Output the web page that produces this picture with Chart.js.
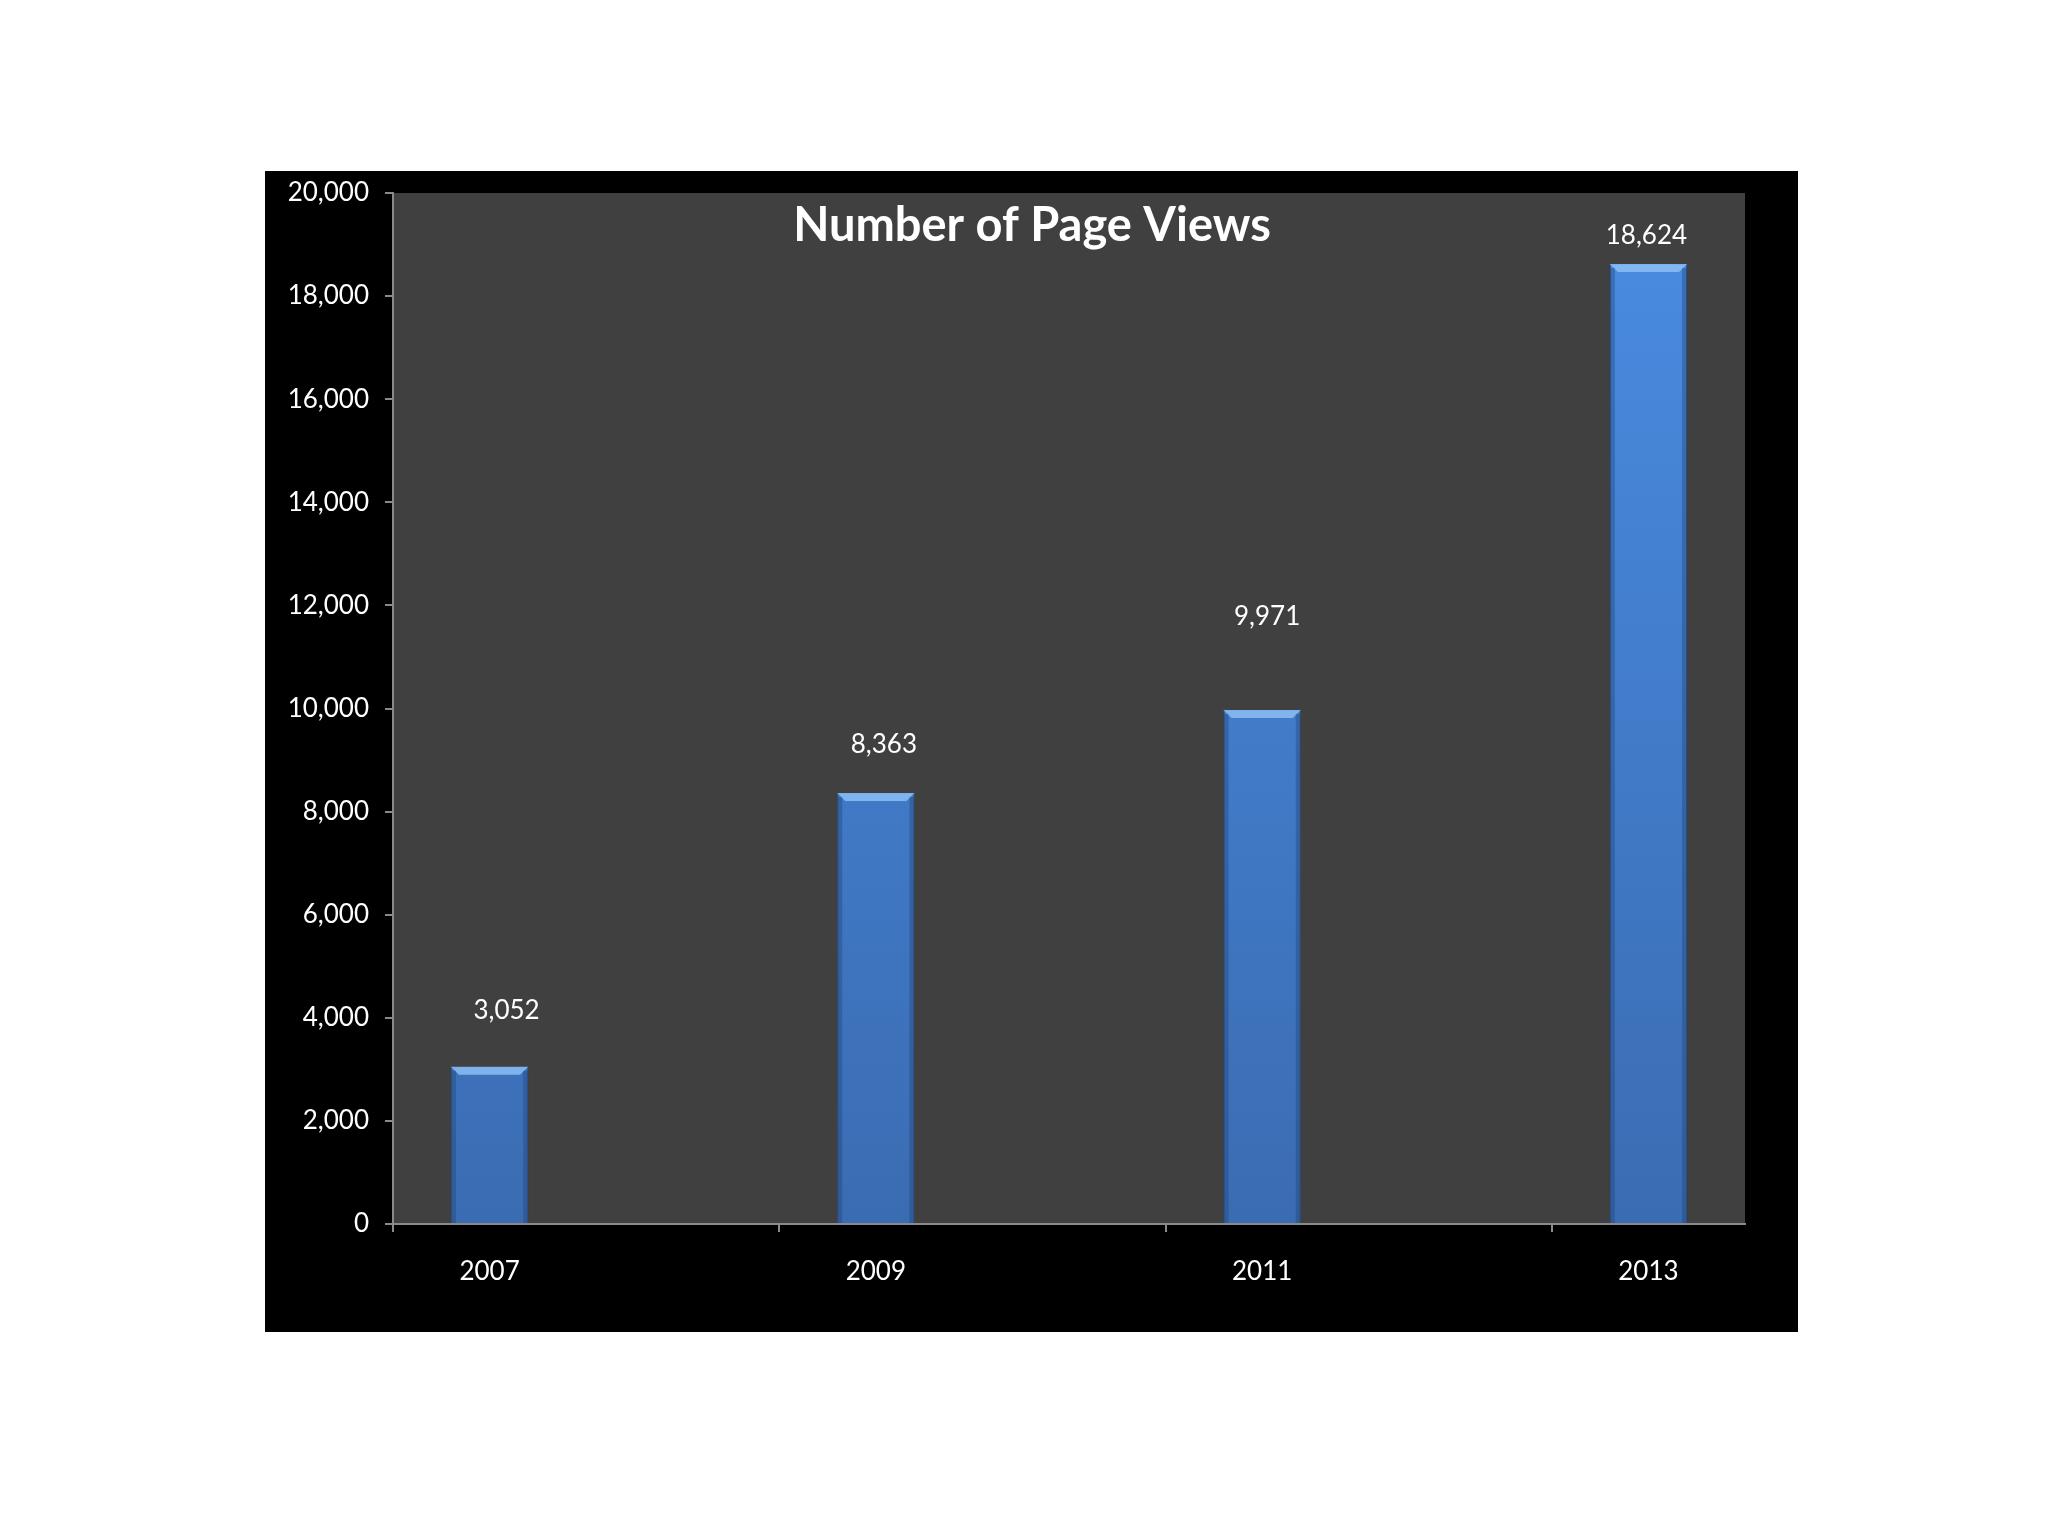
<!DOCTYPE html>
<html>
<head>
<meta charset="utf-8">
<title>Number of Page Views</title>
<script src="https://cdn.jsdelivr.net/npm/chart.js@4/dist/chart.umd.min.js"></script>
<style>
    html, body { margin: 0; padding: 0; background: #ffffff; }
    #cadre {
        position: absolute;
        left: 265px;
        top: 171px;
        width: 1533px;
        height: 1161px;
        background: #000000;
    }
</style>
</head>
<body>
<div id="cadre"><canvas id="graphique-vues"></canvas></div>
<script>
// Années de l'axe (un an par catégorie, seules les années impaires ont une barre)
const annees = ["2007", "2008", "2009", "2010", "2011", "2012", "2013"];
const vuesPages = [3052, null, 8363, null, 9971, null, 18624];
const titre = "Number of Page Views";

const police = "Lato, 'Open Sans', sans-serif";
const gris = "#8a8a8a";

// Décalage des étiquettes de valeur par rapport au haut de chaque barre (px)
const decalageEtiquettes = [[17, -56], null, [8, -48], null, [5, -93], null, [-2, -28]];

// Fond gris de la zone de tracé
const fondZone = {
    id: "fondZone",
    beforeDraw(chart) {
        const { ctx, chartArea } = chart;
        ctx.save();
        ctx.fillStyle = "#404040";
        ctx.fillRect(chartArea.left, chartArea.top, chartArea.right - chartArea.left, chartArea.bottom - chartArea.top);
        ctx.restore();
    }
};

// Biseau clair en haut des barres + étiquettes + titre
const finitions = {
    id: "finitions",
    afterDatasetsDraw(chart) {
        const ctx = chart.ctx;
        const meta = chart.getDatasetMeta(0);
        ctx.save();
        meta.data.forEach((barre, i) => {
            if (vuesPages[i] === null) return;
            const props = barre.getProps(["x", "y", "base", "width"], true);
            const g = props.x - props.width / 2;
            const d = props.x + props.width / 2;
            const h = props.y;
            // bande claire du haut
            ctx.fillStyle = "rgba(140, 190, 245, 0.85)";
            ctx.beginPath();
            ctx.moveTo(g, h);
            ctx.lineTo(d, h);
            ctx.lineTo(d - 8, h + 8);
            ctx.lineTo(g + 8, h + 8);
            ctx.closePath();
            ctx.fill();
            // côtés plus sombres
            ctx.fillStyle = "rgba(30, 60, 110, 0.35)";
            ctx.fillRect(g, h + 4, 5, props.base - h - 4);
            ctx.fillRect(d - 5, h + 4, 5, props.base - h - 4);

            // étiquette de valeur
            const dec = decalageEtiquettes[i] || [0, -40];
            ctx.fillStyle = "#ffffff";
            ctx.font = "26px " + police;
            ctx.textAlign = "center";
            ctx.textBaseline = "middle";
            ctx.fillText(vuesPages[i].toLocaleString("en-US"), props.x + dec[0], h + dec[1]);
        });

        // titre dans la zone de tracé
        ctx.fillStyle = "#ffffff";
        ctx.font = "bold 47px " + police;
        ctx.textAlign = "center";
        ctx.textBaseline = "middle";
        ctx.fillText(titre, 767, 55);
        ctx.restore();
    }
};

const data = {
    labels: annees,
    datasets: [{
        label: titre,
        data: vuesPages,
        backgroundColor: function (context) {
            const area = context.chart.chartArea;
            if (!area) return "#4284d8";
            const degrade = context.chart.ctx.createLinearGradient(0, area.top, 0, area.bottom);
            degrade.addColorStop(0, "#4a8ce2");
            degrade.addColorStop(1, "#3a6cb2");
            return degrade;
        },
        borderColor: "#2e5a99",
        borderWidth: 1,
        categoryPercentage: 1,
        barPercentage: 0.4,
    }],
};

const config = {
    type: "bar",
    data: data,
    options: {
        responsive: true,
        maintainAspectRatio: false,
        animation: false,
        layout: {
            padding: { left: 0, top: 22, right: 53, bottom: 0 },
        },
        plugins: {
            legend: { display: false },
            tooltip: { enabled: false },
            title: { display: false },
        },
        scales: {
            x: {
                offset: true,
                afterFit(scale) { scale.height = 108; },
                grid: {
                    offset: true,
                    drawOnChartArea: false,
                    drawTicks: true,
                    tickLength: 8,
                    lineWidth: 2,
                    color: (ctx) => (ctx.index % 2 === 0) ? gris : "rgba(0,0,0,0)",
                },
                border: { color: gris, width: 2 },
                ticks: {
                    autoSkip: false,
                    maxRotation: 0,
                    color: "#ffffff",
                    padding: 24,
                    font: { family: police, size: 26 },
                    callback: (valeur, i) => (i % 2 === 0) ? annees[i] : "",
                },
            },
            y: {
                min: 0,
                max: 20000,
                afterFit(scale) {
                    scale.width = 128;
                    scale.paddingTop = 0;
                    scale.paddingBottom = 0;
                },
                grid: {
                    drawOnChartArea: false,
                    drawTicks: true,
                    tickLength: 8,
                    lineWidth: 2,
                    color: gris,
                },
                border: { color: gris, width: 2 },
                ticks: {
                    stepSize: 2000,
                    color: "#ffffff",
                    padding: 16,
                    font: { family: police, size: 26 },
                    callback: (valeur) => valeur.toLocaleString("en-US"),
                },
            },
        },
    },
    plugins: [fondZone, finitions],
};

new Chart(document.querySelector("#graphique-vues"), config);
</script>
</body>
</html>
